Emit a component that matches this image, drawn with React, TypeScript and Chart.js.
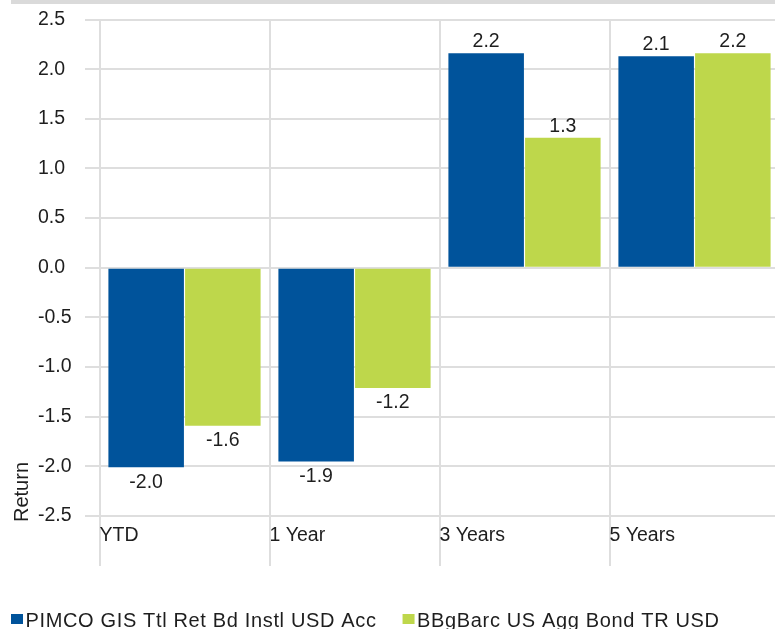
import React, { useEffect, useRef } from 'react';
import { Chart, registerables } from 'chart.js';
Chart.register(...registerables);

const categories = ['YTD', '1 Year', '3 Years', '5 Years'];
const seriesNames = ['PIMCO GIS Ttl Ret Bd Instl USD Acc', 'BBgBarc US Agg Bond TR USD'];
const pimcoValues = [-2.01, -1.95, 2.16, 2.13];
const bbgValues = [-1.59, -1.21, 1.31, 2.16];
const seriesColors = ['#00539B', '#BED74B'];
const yMin = -2.5;
const yMax = 2.5;
const yStep = 0.5;
const yTitle = 'Return';

const FONT = '"Liberation Sans", Arial, sans-serif';
const TEXT = '#1e1e1e';
const GRID = '#dedede';

export default function App() {
  const ref = useRef<HTMLCanvasElement | null>(null);

  useEffect(() => {
    if (!ref.current) return;

    const topBar = {
      id: 'topBar',
      beforeDraw(chart: any) {
        const ctx = chart.ctx;
        ctx.save();
        ctx.fillStyle = '#dadada';
        ctx.fillRect(11, 0, 770, 4);
        ctx.restore();
      },
    };

    const dataLabels = {
      id: 'dataLabels',
      afterDatasetsDraw(chart: any) {
        const ctx = chart.ctx;
        ctx.save();
        ctx.font = `19.5px ${FONT}`;
        ctx.fillStyle = TEXT;
        ctx.textAlign = 'center';
        ctx.textBaseline = 'alphabetic';
        chart.data.datasets.forEach((ds: any, di: number) => {
          const meta = chart.getDatasetMeta(di);
          meta.data.forEach((el: any, i: number) => {
            const v = ds.data[i] as number;
            const y = v >= 0 ? el.y - 6 : el.y + 20.5;
            ctx.fillText(v.toFixed(1), el.x, y);
          });
        });
        ctx.restore();
      },
    };

    const extras = {
      id: 'extras',
      afterDraw(chart: any) {
        const ctx = chart.ctx;
        ctx.save();
        // y axis title
        ctx.font = `20px ${FONT}`;
        ctx.fillStyle = TEXT;
        ctx.translate(28, chart.chartArea.bottom + 6);
        ctx.rotate(-Math.PI / 2);
        ctx.textAlign = 'left';
        ctx.textBaseline = 'alphabetic';
        ctx.fillText(yTitle, 0, 0);
        ctx.restore();

        // legend
        ctx.save();
        ctx.font = `20px ${FONT}`;
        (ctx as any).letterSpacing = '0.65px';
        ctx.textAlign = 'left';
        ctx.textBaseline = 'alphabetic';
        let x = 11;
        chart.data.datasets.forEach((ds: any) => {
          ctx.fillStyle = ds.backgroundColor;
          ctx.fillRect(x, 614, 12, 10);
          ctx.fillStyle = TEXT;
          ctx.fillText(ds.label, x + 14.5, 626.5);
          const w = ctx.measureText(ds.label).width;
          x += 14.5 + w + 26;
        });
        ctx.restore();
      },
    };

    const chart = new Chart(ref.current, {
      type: 'bar',
      data: {
        labels: categories,
        datasets: [
          {
            label: seriesNames[0],
            data: pimcoValues,
            backgroundColor: seriesColors[0],
            categoryPercentage: 0.902,
            barPercentage: 0.985,
          },
          {
            label: seriesNames[1],
            data: bbgValues,
            backgroundColor: seriesColors[1],
            categoryPercentage: 0.902,
            barPercentage: 0.985,
          },
        ],
      },
      options: {
        responsive: false,
        animation: false,
        devicePixelRatio: 1,
        layout: { padding: { left: 38, top: 19.5, right: 0.5, bottom: 53 } },
        plugins: {
          legend: { display: false },
          tooltip: { enabled: false },
        },
        scales: {
          x: {
            offset: true,
            grid: {
              offset: true,
              color: GRID,
              lineWidth: 2,
              tickLength: 50,
              drawTicks: true,
            },
            border: { display: true, color: GRID, width: 2 },
            ticks: {
              align: 'start',
              labelOffset: -85,
              padding: -42,
              autoSkip: false,
              maxRotation: 0,
              minRotation: 0,
              color: TEXT,
              font: { family: FONT, size: 19.5 },
            },
            afterFit: (scale: any) => {
              scale.height = 60;
            },
          },
          y: {
            min: yMin,
            max: yMax,
            grid: {
              color: GRID,
              lineWidth: 2,
              tickLength: 14.5,
              drawTicks: true,
            },
            border: { display: true, color: GRID, width: 2 },
            ticks: {
              stepSize: yStep,
              crossAlign: 'far',
              color: TEXT,
              font: { family: FONT, size: 19.5 },
              callback: (v: any) => Number(v).toFixed(1),
            },
            afterFit: (scale: any) => {
              scale.width = 61.5;
            },
          },
        },
      } as any,
      plugins: [topBar, dataLabels, extras],
    });

    return () => chart.destroy();
  }, []);

  return (
    <div
      style={{
        position: 'absolute',
        left: 0,
        top: 0,
        width: 775,
        height: 629,
        overflow: 'hidden',
        background: '#fff',
      }}
    >
      <canvas ref={ref} width={780} height={629} style={{ width: 780, height: 629, display: 'block' }} />
    </div>
  );
}
